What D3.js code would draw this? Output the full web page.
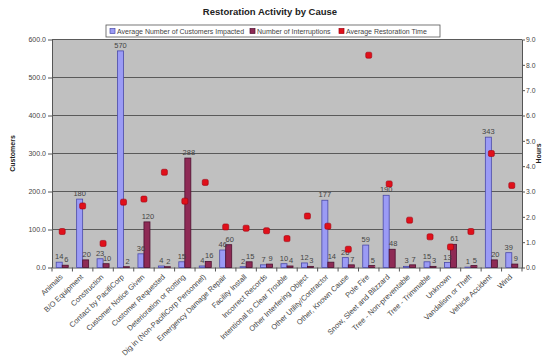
<!DOCTYPE html>
<html>
<head>
<meta charset="utf-8">
<script src="https://cdn.jsdelivr.net/npm/d3@7"></script>
<style>
  html, body { margin: 0; padding: 0; background: #ffffff; }
  svg { display: block; font-family: Arial, "Liberation Sans", sans-serif; }
</style>
</head>
<body>
<svg id="chart" width="544" height="364"></svg>
<script>
// Outage causes and their restoration figures
const causes = [
  "Animals", "B/O Equipment", "Construction", "Contact by PacifiCorp",
  "Customer Notice Given", "Customer Requested", "Deterioration or Rotting",
  "Dig in (Non-PacifiCorp Personnel)", "Emergency Damage Repair", "Facility Install",
  "Incorrect Records", "Intentional to Clear Trouble", "Other Interfering Object",
  "Other Utility/Contractor", "Other, Known Cause", "Pole Fire",
  "Snow, Sleet and Blizzard", "Tree - Non-preventable", "Tree - Trimmable",
  "Unknown", "Vandalism or Theft", "Vehicle Accident", "Wind"
];
const avgCustomers = [14, 180, 23, 570, 36, 4, 15, 4, 46, 2, 7, 10, 12, 177, 26, 59, 190, 3, 15, 13, 1, 343, 39];
const interruptions = [6, 20, 10, 2, 120, 2, 288, 16, 60, 15, 9, 4, 3, 14, 7, 5, 48, 7, 3, 61, 5, 20, 9];
const avgHours = [1.42, 2.43, 0.95, 2.58, 2.70, 3.76, 2.62, 3.36, 1.60, 1.55, 1.45, 1.14, 2.03, 1.63, 0.72, 8.38, 3.30, 1.87, 1.21, 0.81, 1.42, 4.50, 3.24];
const customerTicks = [0, 100, 200, 300, 400, 500, 600];
const hourTicks = [0, 1, 2, 3, 4, 5, 6, 7, 8, 9];
const seriesNames = ["Average Number of Customers Impacted", "Number of Interruptions", "Average Restoration Time"];

const svg = d3.select("#chart");
const plot = { left: 52, right: 522, top: 39.5, bottom: 267.5 };

const x = d3.scaleBand().domain(causes).range([plot.left, plot.right]).paddingInner(0).paddingOuter(0);
const inner = d3.scaleBand().domain(["c", "i"]).range([0, x.bandwidth()]).paddingInner(0).paddingOuter(0.7);
const yLeft = d3.scaleLinear().domain([0, 600]).range([plot.bottom, plot.top]);
const yRight = d3.scaleLinear().domain([0, 9]).range([plot.bottom, plot.top]);

const textColor = "#444";

// Plot background
svg.append("rect")
  .attr("x", plot.left).attr("y", plot.top)
  .attr("width", plot.right - plot.left).attr("height", plot.bottom - plot.top)
  .attr("fill", "#c0c0c0");

// Horizontal gridlines
svg.append("g")
  .selectAll("line")
  .data(customerTicks.slice(1))
  .join("line")
  .attr("x1", plot.left).attr("x2", plot.right)
  .attr("y1", d => yLeft(d)).attr("y2", d => yLeft(d))
  .attr("stroke", "#5a5a5a").attr("stroke-width", 1.1);

// Left axis
const leftAxis = svg.append("g")
  .attr("transform", `translate(${plot.left},0)`)
  .call(d3.axisLeft(yLeft).tickValues(customerTicks).tickFormat(d3.format(".1f")).tickSize(4).tickSizeOuter(0));
leftAxis.select(".domain").attr("stroke", "#555");
leftAxis.selectAll(".tick line").attr("stroke", "#555");
leftAxis.selectAll("text").attr("fill", textColor).attr("font-size", 7).attr("x", -6);

// Right axis
const rightAxis = svg.append("g")
  .attr("transform", `translate(${plot.right},0)`)
  .call(d3.axisRight(yRight).tickValues(hourTicks).tickFormat(d3.format(".1f")).tickSize(3).tickSizeOuter(0));
rightAxis.select(".domain").attr("stroke", "#555");
rightAxis.selectAll(".tick line").attr("stroke", "#555");
rightAxis.selectAll("text").attr("fill", textColor).attr("font-size", 6.8).attr("x", 4);

// Category axis with ticks between categories
const bottomAxis = svg.append("g")
  .attr("transform", `translate(0,${plot.bottom})`)
  .call(d3.axisBottom(x).tickSize(0).tickSizeOuter(0));
bottomAxis.select(".domain").attr("stroke", "#555");
bottomAxis.selectAll("text")
  .attr("fill", textColor)
  .attr("font-size", 7.5)
  .attr("text-anchor", "end")
  .attr("dy", 0)
  .attr("y", 0)
  .attr("transform", "translate(1,10) rotate(-44)");
svg.append("g")
  .selectAll("line")
  .data(causes.concat([null]))
  .join("line")
  .attr("x1", (d, i) => plot.left + i * x.step())
  .attr("x2", (d, i) => plot.left + i * x.step())
  .attr("y1", plot.bottom).attr("y2", plot.bottom + 4)
  .attr("stroke", "#555");

// Bars
const groups = svg.append("g")
  .selectAll("g")
  .data(causes.map((c, i) => ({ c, cust: avgCustomers[i], intr: interruptions[i] })))
  .join("g")
  .attr("transform", d => `translate(${x(d.c)},0)`);

groups.append("rect")
  .attr("x", inner("c")).attr("width", inner.bandwidth())
  .attr("y", d => yLeft(d.cust)).attr("height", d => yLeft(0) - yLeft(d.cust))
  .attr("fill", "#9b9bf5").attr("stroke", "#4a4aa8").attr("stroke-width", 0.8);

groups.append("rect")
  .attr("x", inner("i")).attr("width", inner.bandwidth())
  .attr("y", d => yLeft(d.intr)).attr("height", d => yLeft(0) - yLeft(d.intr))
  .attr("fill", "#8e2a55").attr("stroke", "#4d1030").attr("stroke-width", 0.8);

// Bar value labels
groups.append("text")
  .attr("x", inner("c") + inner.bandwidth() / 2)
  .attr("y", d => yLeft(d.cust) - 3)
  .attr("text-anchor", "middle")
  .attr("font-size", 7.5).attr("fill", textColor)
  .text(d => d.cust);

groups.append("text")
  .attr("x", inner("i") + inner.bandwidth() / 2 + 1)
  .attr("y", d => yLeft(d.intr) - 3)
  .attr("text-anchor", "middle")
  .attr("font-size", 7.5).attr("fill", textColor)
  .text(d => d.intr);

// Restoration time markers on the hours axis
svg.append("g")
  .selectAll("rect")
  .data(causes.map((c, i) => ({ c, h: avgHours[i] })))
  .join("rect")
  .attr("x", d => x(d.c) + x.bandwidth() / 2 - 3)
  .attr("y", d => yRight(d.h) - 3)
  .attr("width", 6).attr("height", 6)
  .attr("rx", 1.5)
  .attr("fill", "#e0101a").attr("stroke", "#a00010").attr("stroke-width", 0.6);

// Axis titles
svg.append("text")
  .attr("transform", `translate(15,${(plot.top + plot.bottom) / 2}) rotate(-90)`)
  .attr("text-anchor", "middle")
  .attr("font-size", 7).attr("font-weight", "bold").attr("fill", "#222")
  .text("Customers");
svg.append("text")
  .attr("transform", `translate(541,${(plot.top + plot.bottom) / 2}) rotate(-90)`)
  .attr("text-anchor", "middle")
  .attr("font-size", 7).attr("font-weight", "bold").attr("fill", "#222")
  .text("Hours");

// Title
svg.append("text")
  .attr("x", 270).attr("y", 15)
  .attr("text-anchor", "middle")
  .attr("font-size", 9.5).attr("font-weight", "bold").attr("fill", "#222")
  .text("Restoration Activity by Cause");

// Legend
const legend = svg.append("g");
legend.append("rect")
  .attr("x", 106).attr("y", 25).attr("width", 334).attr("height", 12)
  .attr("fill", "#ffffff").attr("stroke", "#555").attr("stroke-width", 0.8);
const legendItems = [
  { name: seriesNames[0], x: 110, fill: "#9b9bf5", stroke: "#4a4aa8" },
  { name: seriesNames[1], x: 250, fill: "#8e2a55", stroke: "#4d1030" },
  { name: seriesNames[2], x: 339, fill: "#e0101a", stroke: "#a00010" }
];
legendItems.forEach(it => {
  legend.append("rect")
    .attr("x", it.x).attr("y", 28.5).attr("width", 5).attr("height", 5)
    .attr("fill", it.fill).attr("stroke", it.stroke).attr("stroke-width", 0.7);
  legend.append("text")
    .attr("x", it.x + 7).attr("y", 34)
    .attr("font-size", 7).attr("fill", textColor)
    .text(it.name);
});
</script>
</body>
</html>
